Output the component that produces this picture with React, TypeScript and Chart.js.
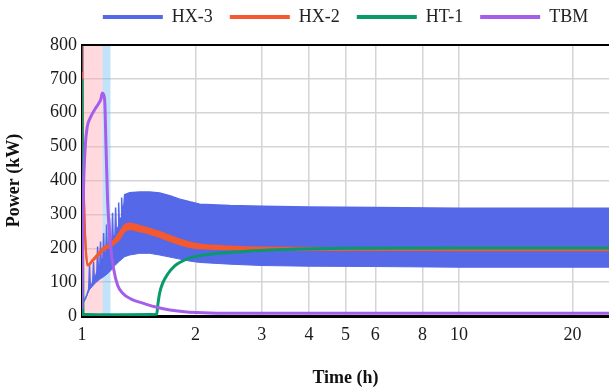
import React, { useEffect, useRef } from 'react';
import { Chart, registerables } from 'chart.js';

Chart.register(...registerables);

// ---- data (time in hours, power in kW) ----
const xTickValues = [1, 2, 3, 4, 5, 6, 8, 10, 20];
const shadeStart = [1.0, 1.134];
const shadeEnd = [1.134, 1.19];

const hx3UpperTime = [
  1.0, 1.009, 1.03,
  1.042, 1.047, 1.052,
  1.068, 1.073, 1.078,
  1.095, 1.1, 1.105,
  1.115, 1.12, 1.125,
  1.136, 1.141, 1.146,
  1.157, 1.162, 1.167,
  1.178, 1.183, 1.188,
  1.2, 1.205, 1.21,
  1.223, 1.228, 1.233,
  1.246, 1.251, 1.256,
  1.269, 1.274, 1.279,
  1.292, 1.297, 1.338, 1.422, 1.511, 1.607, 1.708, 1.816, 1.931, 2.053, 2.467, 3, 4, 6, 10, 15, 25,
];
const hx3UpperPower = [
  35, 42, 62,
  80, 150, 85,
  100, 160, 105,
  130, 205, 135,
  150, 220, 155,
  170, 245, 175,
  190, 270, 195,
  205, 290, 210,
  220, 305, 228,
  240, 320, 250,
  262, 335, 272,
  290, 350, 305,
  330, 358, 364, 366, 366, 363, 355, 345, 337, 330, 326, 324, 322, 320, 318, 318, 318,
];
const hx3LowerTime = [1.0, 1.009, 1.022, 1.034, 1.047, 1.066, 1.086, 1.113, 1.148, 1.183, 1.22, 1.258, 1.297, 1.338, 1.422, 1.511, 1.607, 1.708, 1.816, 1.931, 2.053, 2.467, 3, 4, 6, 10, 25];
const hx3LowerPower = [35, 40, 50, 65, 78, 88, 98, 108, 118, 130, 148, 162, 175, 180, 185, 185, 180, 174, 168, 162, 158, 153, 149, 147, 146, 144, 144];

const hx2Time = [1.0, 1.005, 1.012, 1.02, 1.027, 1.034, 1.05, 1.066, 1.09, 1.113, 1.15, 1.183, 1.22, 1.258, 1.297, 1.338, 1.422, 1.511, 1.607, 1.708, 1.816, 1.931, 2.053, 2.467, 3, 5, 10, 25];
const hx2Upper = [720, 550, 350, 230, 176, 151, 156, 166, 178, 190, 205, 212, 226, 246, 268, 273, 266, 258, 248, 237, 226, 217, 211, 205, 202, 201, 200, 200];
const hx2Lower = [720, 550, 350, 230, 174, 149, 153, 162, 172, 182, 197, 203, 214, 228, 250, 256, 250, 243, 233, 222, 212, 204, 200, 197, 196, 195, 194, 194];

const ht1Time = [1.0, 1.006, 1.1, 1.3, 1.578, 1.59, 1.607, 1.637, 1.688, 1.762, 1.816, 1.931, 2.143, 2.624, 3.15, 3.789, 5, 10, 25];
const ht1Power = [700, 5, 4, 4, 5, 35, 68, 97, 124, 148, 158, 171, 181, 190, 195, 198, 200, 201, 201];

const tbmTime = [1.0, 1.004, 1.009, 1.02, 1.032, 1.054, 1.086, 1.108, 1.122, 1.132, 1.148, 1.158, 1.169, 1.19, 1.215, 1.243, 1.28, 1.35, 1.45, 1.55, 1.71, 2.02, 2.4, 4, 10, 25];
const tbmPower = [20, 200, 370, 500, 557, 587, 613, 628, 640, 658, 640, 500, 342, 210, 135, 91, 68, 50, 38, 28, 18, 10, 8, 8, 8, 8];

// ---- styles ----
const BLUE = '#5468e8';
const ORANGE = '#f4592f';
const GREEN = '#089a6b';
const PURPLE = '#a55eea';
const FONT = "'Liberation Serif', 'Times New Roman', serif";

const pts = (xs: number[], ys: number[]) => xs.map((x, i) => ({ x, y: ys[i] }));

const shadePlugin = {
  id: 'shade',
  beforeDatasetsDraw(chart: any) {
    const { ctx, chartArea } = chart;
    const xs = chart.scales.x;
    const colors = ['rgba(255,170,180,0.45)', 'rgba(120,190,245,0.45)'];
    ctx.save();
    shadeStart.forEach((s, i) => {
      const a = xs.getPixelForValue(s);
      const b = xs.getPixelForValue(shadeEnd[i]);
      ctx.fillStyle = colors[i];
      ctx.fillRect(a, chartArea.top, b - a, chartArea.bottom - chartArea.top);
    });
    ctx.restore();
  },
};

const topBorderPlugin = {
  id: 'topBorder',
  afterDraw(chart: any) {
    const { ctx, chartArea } = chart;
    ctx.save();
    ctx.strokeStyle = '#000';
    ctx.lineWidth = 2;
    ctx.beginPath();
    ctx.moveTo(chartArea.left, chartArea.top);
    ctx.lineTo(chartArea.right, chartArea.top);
    ctx.stroke();
    ctx.restore();
  },
};

export default function App() {
  const canvasRef = useRef<HTMLCanvasElement | null>(null);

  useEffect(() => {
    document.body.style.margin = '0';
    const canvas = canvasRef.current;
    if (!canvas) return;
    const line = (extra: any) => ({
      pointRadius: 0,
      pointHoverRadius: 0,
      ...extra,
    });
    const chart = new Chart(canvas, {
      type: 'line',
      data: {
        datasets: [
          line({ label: 'HX-3', data: pts(hx3UpperTime, hx3UpperPower), borderColor: BLUE, backgroundColor: BLUE, borderWidth: 1.5, fill: '+1', tension: 0, order: 4 }),
          line({ label: '_hx3lo', data: pts(hx3LowerTime, hx3LowerPower), borderColor: BLUE, backgroundColor: BLUE, borderWidth: 1, fill: false, tension: 0, order: 4 }),
          line({ label: 'HX-2', data: pts(hx2Time, hx2Upper), borderColor: ORANGE, backgroundColor: ORANGE, borderWidth: 2, fill: '+1', cubicInterpolationMode: 'monotone', order: 3 }),
          line({ label: '_hx2lo', data: pts(hx2Time, hx2Lower), borderColor: ORANGE, backgroundColor: ORANGE, borderWidth: 2, fill: false, cubicInterpolationMode: 'monotone', order: 3 }),
          line({ label: 'HT-1', data: pts(ht1Time, ht1Power), borderColor: GREEN, backgroundColor: GREEN, borderWidth: 3, fill: false, cubicInterpolationMode: 'monotone', order: 2 }),
          line({ label: 'TBM', data: pts(tbmTime, tbmPower), borderColor: PURPLE, backgroundColor: PURPLE, borderWidth: 3, fill: false, cubicInterpolationMode: 'monotone', order: 1 }),
        ],
      },
      options: {
        responsive: false,
        animation: false,
        parsing: false,
        layout: { padding: { top: -9, left: 0, right: 0, bottom: 0 } },
        plugins: {
          tooltip: { enabled: false },
          title: {
            display: true,
            text: '',
            position: 'top',
            weight: 0,
            fullSize: false,
            padding: 0,
            font: { size: 7.5, family: FONT },
          },
          legend: {
            position: 'top',
            fullSize: false,
            labels: {
              boxWidth: 60,
              boxHeight: 4,
              padding: 17,
              color: '#222',
              font: { family: FONT, size: 18 },
              filter: (item: any) => !String(item.text).startsWith('_'),
              sort: (a: any, b: any) => a.datasetIndex - b.datasetIndex,
              generateLabels: (c: any) =>
                (Chart.defaults.plugins.legend.labels.generateLabels as any)(c).map((l: any) => ({
                  ...l,
                  fillStyle: l.strokeStyle,
                  lineWidth: 0,
                })),
            },
          },
        },
        scales: {
          x: {
            type: 'logarithmic',
            min: 1,
            max: 25,
            afterBuildTicks: (axis: any) => {
              axis.ticks = xTickValues.map((v) => ({ value: v }));
            },
            afterFit: (scale: any) => {
              scale.height = 74;
            },
            ticks: {
              autoSkip: false,
              maxRotation: 0,
              padding: 8,
              color: '#1a1a1a',
              font: { family: FONT, size: 18 },
              callback: (v: any) => String(v),
            },
            grid: { color: '#d4d4d4', lineWidth: 1.5, drawTicks: false },
            border: { color: '#000', width: 3 },
            title: {
              display: true,
              text: 'Time (h)',
              color: '#111',
              font: { family: FONT, size: 18, weight: 'bold' },
              padding: { top: 0, bottom: 1 },
            },
          },
          y: {
            type: 'linear',
            min: 0,
            max: 800,
            afterFit: (scale: any) => {
              scale.width = 82;
            },
            ticks: {
              stepSize: 100,
              padding: 5,
              color: '#1a1a1a',
              font: { family: FONT, size: 18 },
            },
            grid: { color: '#d4d4d4', lineWidth: 1.5, drawTicks: false },
            border: { color: '#000', width: 2.5 },
            title: {
              display: true,
              text: 'Power (kW)',
              color: '#111',
              font: { family: FONT, size: 18, weight: 'bold' },
              padding: { top: 4, bottom: 0 },
            },
          },
        },
      },
      plugins: [shadePlugin, topBorderPlugin],
    } as any);
    return () => chart.destroy();
  }, []);

  return (
    <div style={{ width: 609, height: 390 }}>
      <canvas ref={canvasRef} width={609} height={390} style={{ display: 'block' }} />
    </div>
  );
}
